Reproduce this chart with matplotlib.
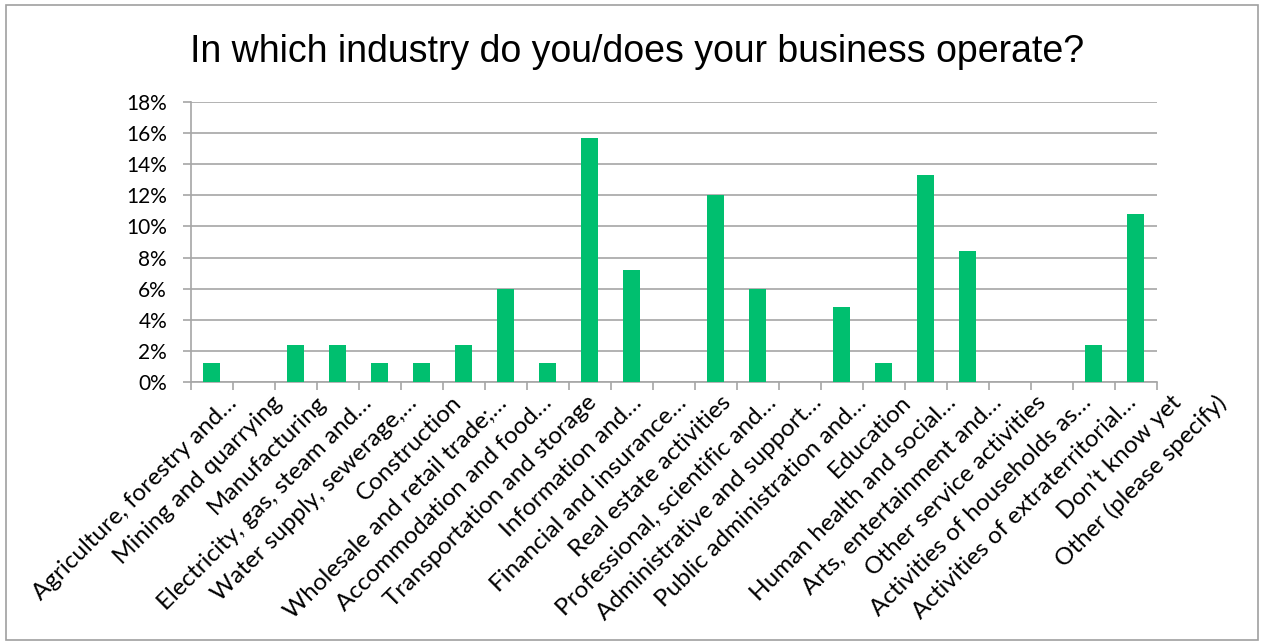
import matplotlib
matplotlib.use("Agg")
import matplotlib.pyplot as plt
from matplotlib import font_manager
from matplotlib.patches import Rectangle
from matplotlib.transforms import ScaledTranslation
from matplotlib.ticker import FuncFormatter, MultipleLocator

industries = [
    "Agriculture, forestry and…",
    "Mining and quarrying",
    "Manufacturing",
    "Electricity, gas, steam and…",
    "Water supply, sewerage,…",
    "Construction",
    "Wholesale and retail trade;…",
    "Accommodation and food…",
    "Transportation and storage",
    "Information and…",
    "Financial and insurance…",
    "Real estate activities",
    "Professional, scientific and…",
    "Administrative and support…",
    "Public administration and…",
    "Education",
    "Human health and social…",
    "Arts, entertainment and…",
    "Other service activities",
    "Activities of households as…",
    "Activities of extraterritorial…",
    "Don’t know yet",
    "Other (please specify)",
]
share_pct = [1.2, 0.0, 2.4, 2.4, 1.2, 1.2, 2.4, 6.0, 1.2, 15.7, 7.2, 0.0,
             12.0, 6.0, 0.0, 4.8, 1.2, 13.3, 8.4, 0.0, 0.0, 2.4, 10.8]

installed = {f.name for f in font_manager.fontManager.ttflist}
title_font = "Liberation Sans Narrow" if "Liberation Sans Narrow" in installed else "Liberation Sans"
label_font = "Lato" if "Lato" in installed else "DejaVu Sans"

BAR = "#00BF6F"
GRID = "#A6A6A6"

W, H, DPI = 1261, 643, 100
fig = plt.figure(figsize=(W / DPI, H / DPI), dpi=DPI)
ax = fig.add_axes([190.7 / W, 1 - 382 / H, (1156.7 - 190.7) / W, (382 - 102) / H])

x = list(range(len(industries)))
ax.bar(x, share_pct, width=0.4, color=BAR, zorder=3)

ax.set_xlim(-0.5, len(industries) - 0.5)
ax.set_ylim(0, 18)
ax.yaxis.set_major_locator(MultipleLocator(2))
ax.yaxis.set_major_formatter(FuncFormatter(lambda v, _: f"{v:.0f}%"))
ax.grid(axis="y", color=GRID, lw=1.2, zorder=0)

# category ticks sit on the boundaries between bars
ax.set_xticks([i - 0.5 for i in range(len(industries) + 1)])
ax.set_xticklabels([])
ax.tick_params(axis="x", direction="out", length=6, width=1.2, color=GRID)
ax.tick_params(axis="y", direction="out", length=6, width=1.2, color=GRID,
               pad=11, labelsize=15)
for lbl in ax.get_yticklabels():
    lbl.set_fontfamily(label_font)
    lbl.set_color("#000000")

for side in ("top", "right"):
    ax.spines[side].set_visible(False)
for side in ("left", "bottom"):
    ax.spines[side].set_color(GRID)
    ax.spines[side].set_linewidth(1.2)

# slanted category names; they spread slightly wider than the bars
for i, name in enumerate(industries):
    shift = ScaledTranslation((26 + 3.0 * i) / DPI, -22 / DPI, fig.dpi_scale_trans)
    ax.text(i, 0, name, transform=ax.get_xaxis_transform() + shift,
            rotation=45, rotation_mode="anchor", ha="right", va="baseline",
            fontsize=17.5, fontfamily=label_font, color="#000000")

fig.text(637 / W, 1 - 62 / H, "In which industry do you/does your business operate?",
         ha="center", va="baseline", fontsize=27, fontfamily=title_font,
         color="#000000")

fig.patches.append(Rectangle((6 / W, 3 / H), 1252 / W, 635 / H,
                             transform=fig.transFigure, fill=False,
                             edgecolor="#A0A0A0", lw=1.2))

fig.savefig("out.png", dpi=DPI)
